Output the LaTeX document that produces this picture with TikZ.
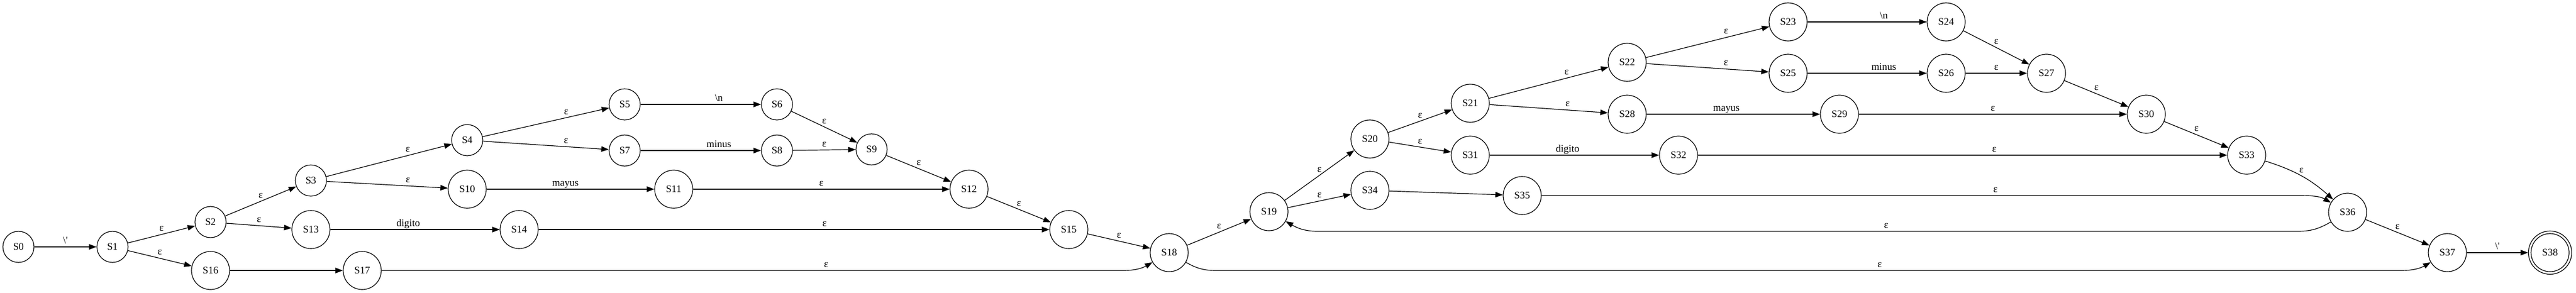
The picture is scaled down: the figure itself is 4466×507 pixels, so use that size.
\documentclass[tikz,border=0pt]{standalone}
\usepackage{fontspec}
\setmainfont{Liberation Serif}
\usetikzlibrary{arrows.meta}
\tikzset{estado/.style={circle, draw=black, minimum size=#1, inner sep=0pt},
%default size is the one of the one-digit states.
estado/.default={54pt},
lbl/.style={anchor=base, yshift=6pt, inner sep=0pt}}

\begin{document}
\begin{tikzpicture}[x=1pt, y=1pt, line width=1.2pt,
    >={Triangle[length=13pt,width=9.5pt]}, font=\fontsize{17.5}{21}\selectfont]

    \useasboundingbox (0,0) rectangle (4466,-507);

    \foreach \i/\x/\y in {0/32/428, 1/195/428, 2/365/385, 3/539/313, 4/810/243,
        5/1083/181, 6/1347/181, 7/1083/261, 8/1347/261, 9/1511/259}
    \node[estado] (S\i) at (\x,-\y) {S\i};

    \foreach \i/\x/\y in {10/810/328, 11/1168/328, 12/1680/328, 13/539/398,
        14/900/398, 15/1853/398, 16/365/469, 17/628/469, 18/2027/438,
        19/2200/367, 20/2375/241, 21/2549/179, 22/2821/108, 23/3100/38,
        24/3374/38, 25/3100/127, 26/3374/127, 27/3548/127, 28/2821/198,
        29/3189/198, 30/3721/198, 31/2549/269, 32/2910/269, 33/3895/269,
        34/2375/330, 35/2639/339, 36/4070/368, 37/4243/438}
    \node[estado=66pt] (S\i) at (\x,-\y) {S\i};

    \node[estado=75pt] (S38) at (4421,-438) {S38};
    \draw (S38.center) circle (33pt);

    \coordinate (b17) at (1946,-469);
    \coordinate (b35) at (3984,-339);
    \coordinate (b36a) at (3984,-401);
    \coordinate (b36b) at (2284,-401);
    \coordinate (b18a) at (2109,-469);
    \coordinate (b18b) at (4162,-469);

    \foreach \a/\b in {1/2, 1/16, 2/3, 2/13, 6/9, 8/9, 9/12, 11/12, 12/15, 15/18,
        18/19, 19/20, 19/34, 20/21, 20/31, 24/27, 26/27, 27/30, 29/30, 30/33, 36/37}
    \draw[->] (S\a) -- node[lbl, midway] {ε} (S\b);

    \foreach \a/\b/\p in {3/4/0.65, 3/10/0.67, 4/5/0.66, 4/7/0.66, 14/15/0.56,
        21/22/0.65, 21/28/0.66, 22/23/0.65, 22/25/0.65, 32/33/0.56}
    \draw[->] (S\a) -- node[lbl, pos=\p] {ε} (S\b);

    \draw[->] (S0) -- node[lbl, midway] {\textbackslash\textquotesingle} (S1);
    \draw[->] (S37) -- node[lbl, midway] {\textbackslash\textquotesingle} (S38);
    \draw[->] (S5) -- node[lbl, pos=0.65] {\textbackslash n} (S6);
    \draw[->] (S23) -- node[lbl, pos=0.64] {\textbackslash n} (S24);
    \draw[->] (S7) -- node[lbl, pos=0.65] {minus} (S8);
    \draw[->] (S25) -- node[lbl, pos=0.64] {minus} (S26);
    \draw[->] (S10) -- node[lbl, pos=0.47] {mayus} (S11);
    \draw[->] (S28) -- node[lbl, pos=0.46] {mayus} (S29);
    \draw[->] (S13) -- node[lbl, pos=0.46] {digito} (S14);
    \draw[->] (S31) -- node[lbl, pos=0.46] {digito} (S32);

    \draw[->] (S16) -- (S17);
    \draw[->] (S34) -- (S35);

    \draw[->] (S17) -- node[lbl, pos=0.6] {ε} (b17) to[out=0, in=210] (S18);
    \draw[->] (S35) -- node[lbl, pos=0.6] {ε} (b35) to[out=0, in=150] (S36);
    \draw[->] (S33) to[bend left=12] node[lbl, midway] {ε} (S36);
    \draw[->] (S36) to[out=210, in=0] (b36a) -- node[lbl, pos=0.42] {ε} (b36b)
        to[out=180, in=-30] (S19);
    \draw[->] (S18) to[out=-30, in=180] (b18a) -- node[lbl, pos=0.56] {ε} (b18b)
        to[out=0, in=210] (S37);

  \end{tikzpicture}
\end{document}
